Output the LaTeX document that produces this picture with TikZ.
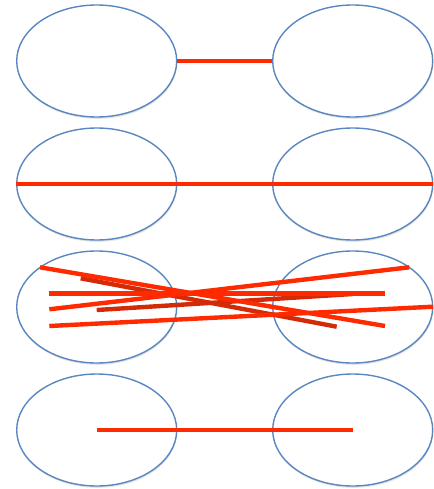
\documentclass[tikz,border=0pt]{standalone}
\usepackage{tikz}
\usetikzlibrary{positioning,shapes.geometric,shadows}
\definecolor{cring}{HTML}{5A87C0}
\definecolor{cbar}{HTML}{FF2A00}
\definecolor{cbardk}{HTML}{D42A08}
\tikzset{
  blob/.style={ellipse, draw=cring, fill=white, line width=1.4pt,
               minimum width=160pt, minimum height=112pt, inner sep=0pt,
               drop shadow={opacity=0.22, shadow xshift=0.6pt, shadow yshift=-1.8pt}},
  bar/.style={draw=cbar, line width=4.4pt},
  bardk/.style={draw=cbardk, line width=4.4pt}
}
\begin{document}
\begin{tikzpicture}[x=1pt, y=-1pt, node distance=9.6pt and 94.6pt]
\useasboundingbox (0,0) rectangle (433,489);
\node[blob] (l1) at (96.7,61) {};
\node[blob, right=of l1] (r1) {};
\node[blob, below=of l1] (l2) {};
\node[blob, right=of l2] (r2) {};
\node[blob, below=of l2] (l3) {};
\node[blob, right=of l3] (r3) {};
\node[blob, below=of l3] (l4) {};
\node[blob, right=of l4] (r4) {};
% row 1
\draw[bar] (l1.east) -- (r1.west);
% row 2
\draw[bar] (l2.west) -- (r2.east);
% row 3: tangle of strands
\coordinate (a1) at (40,267.3);   \coordinate (b1) at (385,326);
\coordinate (a2) at (80.7,278.3); \coordinate (b2) at (336.7,326.7);
\coordinate (a3) at (49.3,293.3); \coordinate (b3) at (385,293.3);
\coordinate (a4) at (49.3,309.3); \coordinate (b4) at (409.3,267.3);
\coordinate (a5) at (96.7,310);   \coordinate (b5) at (352.7,294);
\coordinate (a6) at (49.3,326);   \coordinate (b6) at (433,306.7);
\draw[bardk] (a2) -- (b2);
\draw[bardk] (a5) -- (b5);
\draw[bar] (a1) -- (b1);
\draw[bar] (a3) -- (b3);
\draw[bar] (a4) -- (b4);
\draw[bar] (a6) -- (b6);
% row 4
\draw[bar] (l4.center) -- (r4.center);
\end{tikzpicture}
\end{document}
